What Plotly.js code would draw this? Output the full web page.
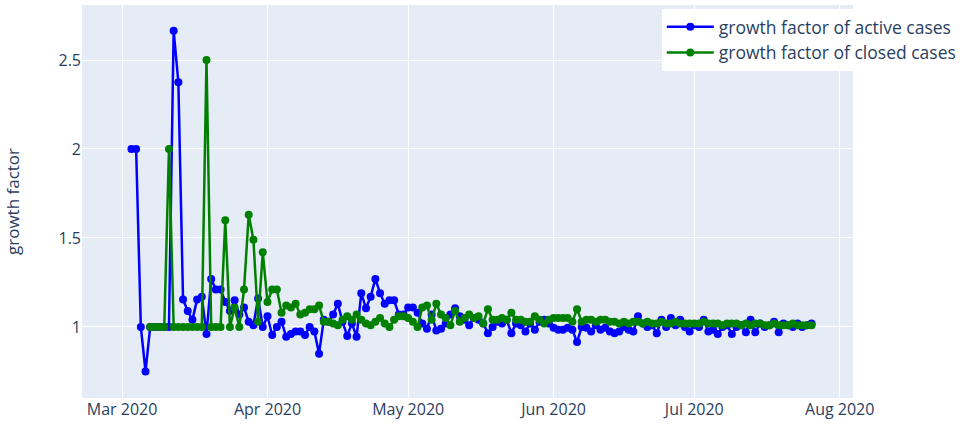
<!DOCTYPE html>
<html>
<head>
<meta charset="utf-8">
<script src="https://cdn.plot.ly/plotly-3.0.1.min.js"></script>
<style>html,body{margin:0;padding:0;background:#fff;}#chart{width:968px;height:424px;}</style>
</head>
<body>
<div id="chart"></div>
<script>
// growth factor of active cases, daily from 2020-03-03
const activeStart = "2020-03-03";
const activeMar = [2.0, 2.0, 1.0, 0.75, 1.0, 1.0, 1.0, 1.0, 1.0, 2.665, 2.375, 1.155, 1.09, 1.04, 1.155, 1.17, 0.96, 1.27, 1.21, 1.21, 1.14, 1.09, 1.15, 1.07, 1.11, 1.03, 1.01, 1.16, 1.0];
const activeApr = [1.06, 0.955, 1.0, 1.03, 0.945, 0.96, 0.975, 0.975, 0.955, 1.0,
                   0.975, 0.85, 1.04, 1.03, 1.07, 1.13, 1.03, 0.95, 1.02, 0.945,
                   1.19, 1.105, 1.17, 1.27, 1.19, 1.13, 1.15, 1.15, 1.07, 1.07];
const activeMay = [1.11, 1.11, 1.08, 1.02, 0.99, 1.07, 0.98, 0.99, 1.02, 1.07,
                   1.105, 1.06, 1.04, 1.01, 1.05, 1.04, 1.02, 0.965, 1.0, 1.03,
                   1.02, 1.04, 0.965, 1.02, 1.01, 0.975, 1.02, 0.985, 1.03, 1.04, 1.02];
const activeJun = [0.995, 0.985, 0.985, 0.995, 0.985, 0.915, 1.0, 0.995, 0.975, 1.01,
                   0.985, 0.995, 0.975, 0.965, 0.975, 1.0, 0.985, 0.975, 1.06, 1.02,
                   1.0, 1.01, 0.965, 1.04, 1.0, 1.05, 1.01, 1.04, 1.0, 0.975];
const activeJul = [1.01, 1.0, 1.04, 0.975, 0.985, 0.96, 1.0, 1.01, 0.96, 1.0,
                   1.01, 0.97, 1.04, 0.97, 1.02, 1.0, 1.01, 1.03, 0.97, 1.02,
                   1.01, 1.0, 1.02, 1.0, 1.01, 1.02];

// growth factor of closed cases, daily from 2020-03-07
const closedStart = "2020-03-07";
const closedMar = [1.0, 1.0, 1.0, 1.0, 2.0, 1.0, 1.0, 1.0, 1.0, 1.0, 1.0, 1.0, 2.5, 1.0, 1.0, 1.0,
                   1.6, 1.0, 1.11, 1.0, 1.21, 1.63, 1.49, 1.03, 1.42];
const closedApr = [1.14, 1.21, 1.21, 1.08, 1.12, 1.11, 1.13, 1.07, 1.08, 1.10,
                   1.10, 1.12, 1.03, 1.03, 1.02, 1.01, 1.04, 1.06, 1.04, 1.07,
                   1.04, 1.02, 1.01, 1.03, 1.05, 1.02, 1.0, 1.04, 1.06, 1.06];
const closedMay = [1.05, 1.03, 1.0, 1.11, 1.12, 1.04, 1.13, 1.07, 1.05, 1.01,
                   1.09, 1.03, 1.05, 1.07, 1.05, 1.06, 1.02, 1.10, 1.04, 1.04,
                   1.05, 1.04, 1.08, 1.04, 1.04, 1.03, 1.03, 1.06, 1.04, 1.02, 1.04];
const closedJun = [1.05, 1.05, 1.05, 1.05, 1.03, 1.10, 1.03, 1.04, 1.04, 1.03,
                   1.04, 1.04, 1.03, 1.03, 1.02, 1.03, 1.02, 1.03, 1.03, 1.02,
                   1.03, 1.02, 1.02, 1.03, 1.02, 1.02, 1.03, 1.02, 1.02, 1.02];
const closedJul = [1.02, 1.02, 1.03, 1.02, 1.02, 1.02, 1.01, 1.02, 1.02, 1.02,
                   1.01, 1.02, 1.01, 1.02, 1.02, 1.01, 1.01, 1.02, 1.01, 1.01,
                   1.01, 1.02, 1.01, 1.01, 1.01, 1.01];

const seriesNames = ["growth factor of active cases", "growth factor of closed cases"];
const yTitle = "growth factor";

function dailyDates(start, n) {
  const out = [];
  const d0 = new Date(start + "T00:00:00Z");
  for (let i = 0; i < n; i++) {
    const d = new Date(d0.getTime() + i * 86400000);
    out.push(d.toISOString().slice(0, 10));
  }
  return out;
}

const activeY = [].concat(activeMar, activeApr, activeMay, activeJun, activeJul);
const closedY = [].concat(closedMar, closedApr, closedMay, closedJun, closedJul);

const traces = [
  {x: dailyDates(activeStart, activeY.length), y: activeY, name: seriesNames[0],
   type: "scatter", mode: "lines+markers",
   line: {color: "blue", width: 2.5}, marker: {color: "blue", size: 8}},
  {x: dailyDates(closedStart, closedY.length), y: closedY, name: seriesNames[1],
   type: "scatter", mode: "lines+markers",
   line: {color: "green", width: 2.5}, marker: {color: "green", size: 8}}
];

const layout = {
  width: 968, height: 424,
  margin: {l: 82, r: 115, t: 5, b: 26},
  paper_bgcolor: "#ffffff",
  plot_bgcolor: "#E5ECF6",
  font: {family: "Open Sans, verdana, arial, sans-serif", size: 16, color: "#2a3f5f"},
  xaxis: {type: "date", range: ["2020-02-21 11:00", "2020-08-03 20:00"],
          gridcolor: "#ffffff", gridwidth: 1, zeroline: false, automargin: false},
  yaxis: {range: [0.601, 2.809], gridcolor: "#ffffff", gridwidth: 1, zeroline: false,
          title: {text: yTitle, font: {size: 17}, standoff: 34}, automargin: true},
  legend: {x: 0.752, y: 0.99, xanchor: "left", yanchor: "top", bgcolor: "#ffffff",
           font: {size: 17.5}, itemwidth: 47},
  showlegend: true
};

Plotly.newPlot("chart", traces, layout, {displayModeBar: false, staticPlot: true});
</script>
</body>
</html>
